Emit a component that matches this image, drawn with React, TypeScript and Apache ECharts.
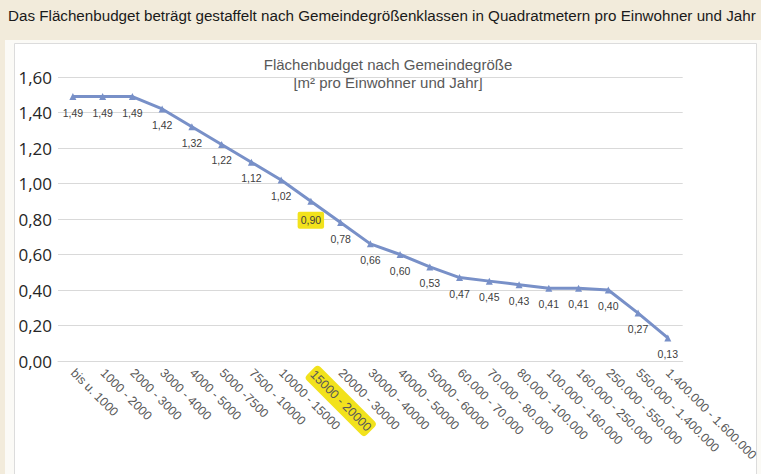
import React, { useEffect, useRef } from "react";
import * as echarts from "echarts";

const categories = [
  "bis u. 1000", "1000 - 2000", "2000 - 3000", "3000 - 4000", "4000 - 5000",
  "5000 -7500", "7500 - 10000", "10000 - 15000", "15000 - 20000", "20000 - 30000",
  "30000 - 40000", "40000 - 50000", "50000 - 60000", "60.000 - 70.000", "70.000 - 80.000",
  "80.000 - 100.000", "100.000 - 160.000", "160.000 - 250.000", "250.000 - 550.000",
  "550.000 - 1.400.000", "1.400.000 - 1.600.000",
];
const values = [
  1.49, 1.49, 1.49, 1.42, 1.32, 1.22, 1.12, 1.02, 0.9, 0.78, 0.66, 0.6, 0.53, 0.47, 0.45,
  0.43, 0.41, 0.41, 0.4, 0.27, 0.13,
];
const highlightedCategory = "15000 - 20000";
const highlightedIndex = 8;
const headline = "Das Flächenbudget beträgt gestaffelt nach Gemeindegrößenklassen in Quadratmetern pro Einwohner und Jahr";
const chartTitle = "Flächenbudget nach Gemeindegröße";
const chartSubtitle = "[m² pro Einwohner und Jahr]";

const fmt = (v: number) => v.toFixed(2).replace(".", ",");

export default function App() {
  const ref = useRef<HTMLDivElement>(null);
  useEffect(() => {
    document.body.style.margin = "0";
    const chart = echarts.init(ref.current!, null, { renderer: "svg" });
    const yellow = "#f2e21c";
    const sans = "'Liberation Sans', Arial, sans-serif";
    chart.setOption({
      animation: false,
      backgroundColor: "#f2ebdb",
      graphic: [
        { type: "rect", z: -10, silent: true, shape: { x: 5, y: 40, width: 756, height: 434 }, style: { fill: "#fbfaf6" } },
        { type: "rect", z: -9, silent: true, shape: { x: 14.5, y: 43.5, width: 742, height: 440 }, style: { fill: "#ffffff", stroke: "#dcdcdc", lineWidth: 1 } },
        { type: "text", x: 8, y: 15, style: { text: headline, font: `15.2px ${sans}`, fill: "#1a1a1a", verticalAlign: "middle" } },
        { type: "text", x: 388, y: 64, style: { text: chartTitle, font: `15px ${sans}`, fill: "#595959", align: "center", verticalAlign: "middle" } },
        { type: "text", x: 388, y: 82, style: { text: chartSubtitle, font: `15px ${sans}`, fill: "#595959", align: "center", verticalAlign: "middle" } },
      ],
      grid: { left: 58, right: 77, top: 77, bottom: 113, containLabel: false },
      xAxis: {
        type: "category",
        data: categories,
        boundaryGap: true,
        axisLine: { lineStyle: { color: "#d9d9d9" } },
        axisTick: { show: false },
        axisLabel: {
          interval: 0,
          rotate: -45,
          margin: 10,
          color: "#595959",
          fontSize: 12.5,
          fontFamily: sans,
          formatter: (v: string) => (v === highlightedCategory ? `{hl|${v}}` : v),
          rich: {
            hl: {
              backgroundColor: yellow,
              padding: [3, 2],
              borderRadius: 4,
              color: "#595959",
              fontSize: 12.5,
              fontFamily: sans,
            },
          },
        },
      },
      yAxis: {
        type: "value",
        min: 0,
        max: 1.6,
        interval: 0.2,
        axisLine: { show: false },
        axisTick: { show: false },
        splitLine: { lineStyle: { color: "#d9d9d9" } },
        axisLabel: {
          formatter: (v: number) => fmt(v),
          color: "#262626",
          fontSize: 17,
          fontFamily: "'Open Sans', sans-serif",
          margin: 6,
        },
      },
      series: [
        {
          type: "line",
          data: values.map((v, i) =>
            i === highlightedIndex
              ? { value: v, label: { backgroundColor: yellow, padding: [3, 3], borderRadius: 2 } }
              : v
          ),
          lineStyle: { color: "#7890c8", width: 3 },
          itemStyle: { color: "#7890c8" },
          symbol: "triangle",
          symbolSize: 7,
          label: {
            show: true,
            position: "bottom",
            distance: 7,
            formatter: (p: any) => fmt(p.value),
            color: "#404040",
            fontSize: 10.5,
            fontFamily: sans,
          },
        },
      ],
    });
    return () => chart.dispose();
  }, []);
  return <div ref={ref} style={{ width: 761, height: 474 }} />;
}
